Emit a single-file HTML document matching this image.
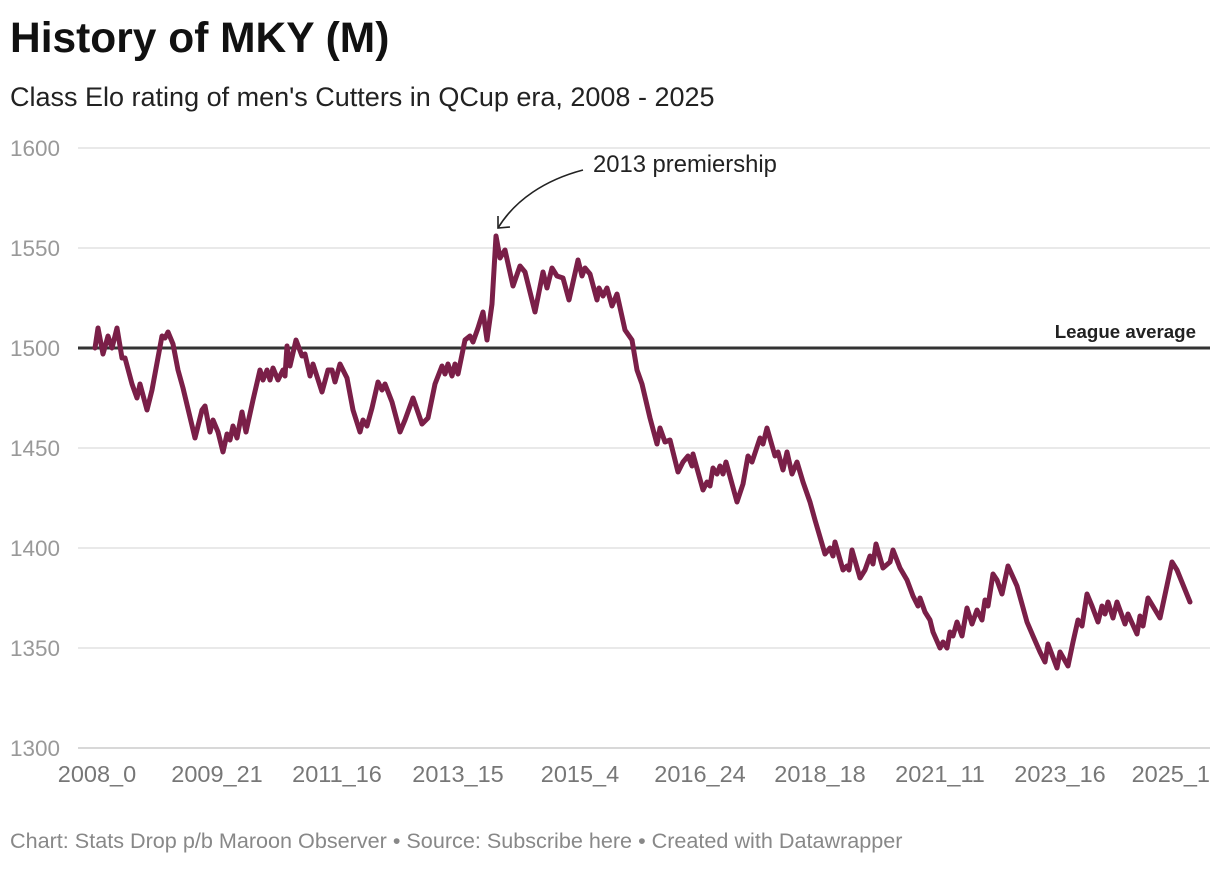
<!DOCTYPE html>
<html><head><meta charset="utf-8"><style>
body{margin:0;background:#fff;font-family:"Liberation Sans",Arial,sans-serif;}
svg text{font-family:"Liberation Sans",Arial,sans-serif;}
</style></head><body>
<svg id="chart" width="1220" height="864" xmlns="http://www.w3.org/2000/svg">
<text x="10" y="52" font-size="42.5" font-weight="bold" fill="#111">History of MKY (M)</text>
<text x="10" y="106" font-size="27" fill="#222">Class Elo rating of men's Cutters in QCup era, 2008 - 2025</text>
<g id="grid"></g>
<g id="avg"></g>
<g id="series"></g>
<g id="xaxis"></g>
<text x="593" y="172" font-size="23.8" fill="#222">2013 premiership</text>
<path d="M583,170 C545,180 515,200 498,228" fill="none" stroke="#222" stroke-width="1.6"/>
<path d="M498,216 L498,228 L510,227" fill="none" stroke="#222" stroke-width="1.6"/>
<text x="10" y="848" font-size="21.6" fill="#888">Chart: Stats Drop p/b Maroon Observer • Source: Subscribe here • Created with Datawrapper</text>
</svg>
<script>
const yTicks=[1300,1350,1400,1450,1500,1550,1600];
const xTickLabels=["2008_0","2009_21","2011_16","2013_15","2015_4","2016_24","2018_18","2021_11","2023_16","2025_1"];
const xTickPeriods=[2,122,242,363,485,605,725,845,965,1095];
const leagueAverage=1500;
const periods=[
0,3,8,13,17,22,27,30,37,42,45,52,57,67,70,73,78,83,88,100,
107,110,115,118,123,128,132,135,138,142,147,151,158,165,168,172,175,178,183,188,
190,192,195,201,207,210,215,218,227,233,237,240,245,252,258,265,268,272,277,283,
287,290,297,305,310,318,327,333,340,347,350,353,357,360,363,370,375,378,383,
388,392,397,401,405,410,418,425,430,440,448,452,457,462,468,474,483,487,490,495,
502,504,508,512,517,522,530,537,542,547,555,562,565,570,575,583,588,593,597,598,
608,612,615,618,622,625,628,631,642,648,653,657,665,668,672,680,683,688,692,697,
702,708,715,720,
730,735,738,740,748,752,754,757,765,770,775,778,781,788,795,798,805,812,818,823,
825,830,835,838,845,848,852,855,858,862,867,872,877,882,887,890,893,898,902,907,
913,922,932,938,945,950,953,962,965,973,978,983,987,992,997,1003,1007,1010,1013,1018,
1022,1030,1033,1042,1045,1048,1053,1065,1077,1082,1095];
const ratings=[
1500,1510,1497,1506,1500,1510,1495,1495,1482,1475,1482,1469,1479,1506,1505,1508,1502,1489,1480,1455,
1469,1471,1458,1464,1458,1448,1457,1454,1461,1455,1468,1458,1474,1489,1484,1489,1484,1490,1484,1489,
1486,1501,1491,1504,1496,1497,1486,1492,1478,1489,1489,1483,1492,1485,1469,1458,1464,1461,1470,1483,
1479,1482,1473,1458,1464,1475,1462,1465,1482,1491,1487,1492,1486,1492,1487,1504,1506,1503,1510,
1518,1504,1522,1556,1545,1549,1531,1541,1538,1518,1538,1530,1540,1536,1535,1524,1544,1536,1540,1537,
1524,1530,1526,1530,1521,1527,1509,1504,1489,1482,1465,1452,1460,1453,1454,1438,1443,1446,1441,1447,
1429,1433,1431,1440,1437,1441,1437,1443,1423,1432,1446,1443,1455,1452,1460,1446,1448,1439,1448,1437,
1443,1433,1423,1414,
1397,1400,1396,1403,1389,1391,1389,1399,1385,1389,1396,1392,1402,1390,1393,1399,1390,1384,1376,1371,
1375,1368,1364,1358,1350,1353,1350,1358,1356,1363,1356,1370,1362,1369,1364,1374,1371,1387,1384,1377,
1391,1381,1363,1356,1348,1343,1352,1340,1348,1341,1353,1364,1361,1377,1371,1363,1371,1367,1373,1365,
1373,1362,1367,1357,1366,1361,1375,1365,1393,1389,1373];
const NS="http://www.w3.org/2000/svg";
const X0=95,X1=1190,T0=0,T1=1095;
const xs=t=>X0+(t-T0)/(T1-T0)*(X1-X0);
const ys=v=>748-(v-1300)/300*600;
const grid=document.getElementById('grid');
yTicks.forEach(v=>{
  const l=document.createElementNS(NS,'line');
  
  
  l.setAttribute('x1',78);l.setAttribute('x2',1210);l.setAttribute('y1',ys(v));l.setAttribute('y2',ys(v));
  l.setAttribute('stroke',v===1300?'#ccc':'#e2e2e2');l.setAttribute('stroke-width',1.5);
  grid.appendChild(l);
  const t=document.createElementNS(NS,'text');
  
  
  t.setAttribute('x',10);t.setAttribute('y',ys(v)+8);t.setAttribute('font-size',22.5);t.setAttribute('fill','#999');
  t.textContent=v;grid.appendChild(t);
});
const avg=document.getElementById('avg');
const al=document.createElementNS(NS,'line');


al.setAttribute('x1',78);al.setAttribute('x2',1210);al.setAttribute('y1',ys(leagueAverage));al.setAttribute('y2',ys(leagueAverage));
al.setAttribute('stroke','#333');al.setAttribute('stroke-width',3);avg.appendChild(al);
const at=document.createElementNS(NS,'text');


at.setAttribute('x',1196);at.setAttribute('y',ys(leagueAverage)-10);at.setAttribute('text-anchor','end');
at.setAttribute('font-size',18.7);at.setAttribute('font-weight','bold');at.setAttribute('fill','#222');
at.textContent='League average';avg.appendChild(at);
const n=Math.min(periods.length,ratings.length);
const p=document.createElementNS(NS,'path');


let d='';
for(let i=0;i<n;i++){d+=(i?'L':'M')+xs(periods[i]).toFixed(1)+','+ys(ratings[i]).toFixed(1);}
p.setAttribute('d',d);
p.setAttribute('fill','none');p.setAttribute('stroke','#7a1f48');p.setAttribute('stroke-width',5);
p.setAttribute('stroke-linejoin','round');p.setAttribute('stroke-linecap','round');
document.getElementById('series').appendChild(p);
const xa=document.getElementById('xaxis');
xTickLabels.forEach((lab,i)=>{
  const t=document.createElementNS(NS,'text');
  
  
  const last=i===xTickLabels.length-1;
  t.setAttribute('x',last?1210:xs(xTickPeriods[i]));
  t.setAttribute('y',782);
  t.setAttribute('text-anchor',last?'end':'middle');
  t.setAttribute('font-size',23.5);t.setAttribute('fill','#777');
  t.textContent=lab;xa.appendChild(t);
});
</script>
</body></html>
